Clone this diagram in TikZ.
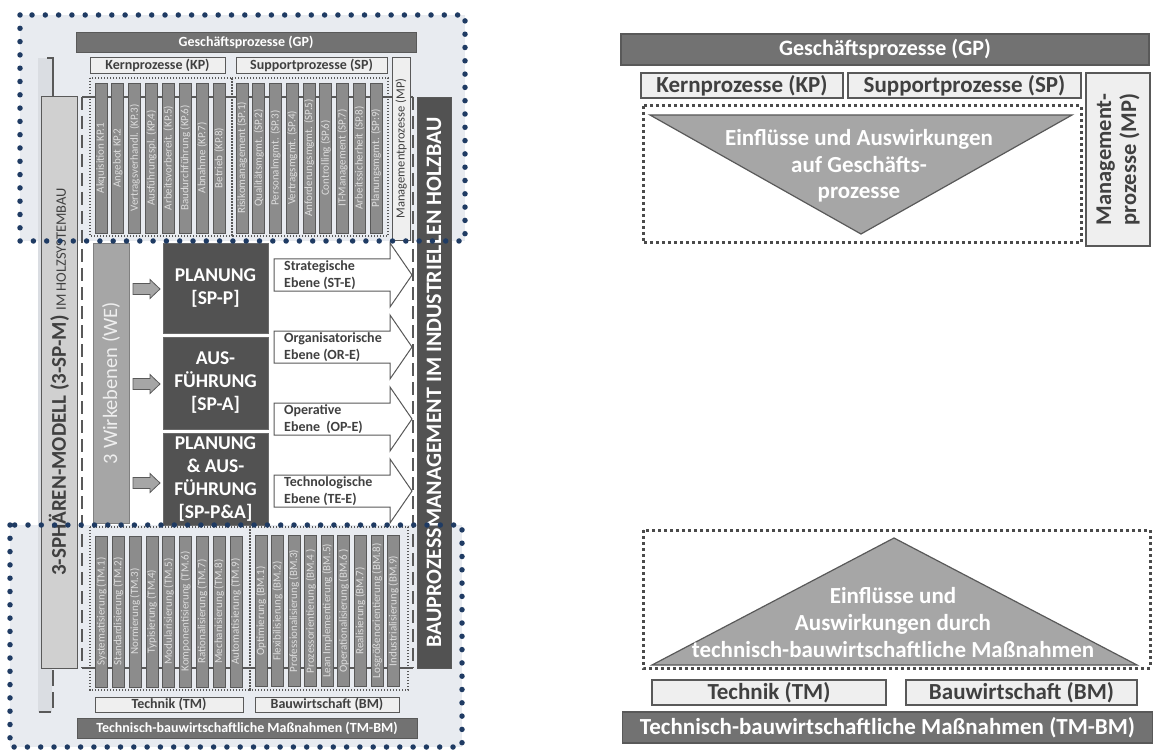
\documentclass[tikz,border=0pt]{standalone}
\usepackage{fontspec}
\setmainfont{Carlito}
\usetikzlibrary{shapes.geometric}
\definecolor{regbg}{HTML}{E8EBF0}
\definecolor{navy}{HTML}{1F3B63}
\definecolor{lineg}{HTML}{595959}
\definecolor{dotg}{HTML}{4A4A4A}
\definecolor{colfill}{HTML}{8C8C8C}
\definecolor{coltext}{HTML}{DDDDDD}
\definecolor{barfill}{HTML}{727272}
\definecolor{darkbox}{HTML}{525252}
\definecolor{darkedge}{HTML}{6A6A6A}
\definecolor{lightbox}{HTML}{EFEFEF}
\definecolor{midgray}{HTML}{A6A6A6}
\definecolor{spmfill}{HTML}{D0D0D0}
\definecolor{band}{HTML}{DADDE2}
\definecolor{txtdark}{HTML}{404040}
\definecolor{wetext}{HTML}{EEEEEE}
\definecolor{weedge}{HTML}{808080}
\begin{document}
\begin{tikzpicture}[x=1pt,y=-1pt,
  col/.style={draw=lineg, fill=colfill, line width=0.8pt, rotate=90, minimum height=12pt, inner sep=0pt, text=coltext, font=\fontsize{11}{13}\selectfont},
  lbl/.style={draw=lineg, fill=lightbox, line width=0.8pt, inner sep=0pt, text=txtdark, font=\bfseries\fontsize{14}{16}\selectfont},
  bar/.style={draw=lineg, fill=barfill, line width=0.8pt, inner sep=0pt, text=white, font=\bfseries\fontsize{14}{16}\selectfont},
  rlbl/.style={draw=lineg, fill=lightbox, line width=1.2pt, inner sep=0pt, text=txtdark, font=\bfseries\fontsize{23}{25}\selectfont},
  rbar/.style={draw=lineg, fill=barfill, line width=1.2pt, inner sep=0pt, text=white, font=\bfseries\fontsize{22}{25}\selectfont},
  dotsq/.style={draw=lineg, line width=1.4pt, dash pattern=on 1.4pt off 1.6pt},
  rdot/.style={draw=dotg, line width=3pt, dash pattern=on 3pt off 3pt},
  navydots/.style={draw=navy, line width=5.5pt, line cap=round, dash pattern=on 0pt off 13.3pt},
  dbox/.style={draw=darkedge, fill=darkbox, line width=0.8pt, text=white, align=center, inner sep=0pt, minimum width=105pt, font=\bfseries\fontsize{19.5}{23}\selectfont},
  smallarr/.style={draw=lineg, fill=midgray, line width=0.8pt},
  bigarr/.style={draw=lineg, fill=white, line width=1pt},
  arrtxt/.style={anchor=west, align=left, text=txtdark, font=\bfseries\fontsize{14}{17}\selectfont, inner sep=0pt},
  tri/.style={draw=lineg, fill=midgray, line width=1.2pt},
  tritxt/.style={align=center, text=white, font=\bfseries\fontsize{23}{27}\selectfont},
  framel/.style={draw=lineg, line width=1.6pt},
]
\useasboundingbox (0,0) rectangle (1153,751);
\fill[white] (0,0) rectangle (1153,751);
% ---------- left: region backgrounds
\fill[regbg] (20,15) rectangle (465,241);
\fill[regbg] (10,525) rectangle (462,747);
\fill[band] (38,58) rectangle (52,712);
% bracket
\draw[framel, line width=1.8pt] (47,58) -- (53,58) -- (53,96);
\draw[framel, line width=1.8pt, dash pattern=on 16pt off 6pt] (53,670) -- (53,712) -- (39,712);
% dashed frame
\draw[framel, dash pattern=on 13pt off 6pt] (82,97) -- (82,668);
\draw[framel, dash pattern=on 13pt off 6pt] (413,97) -- (413,668);
\draw[framel] (82,97) -- (413,97);
\draw[framel] (82,668) -- (413,668);
% dotted groups
\draw[dotsq] (90,78) rectangle (232,236);
\draw[dotsq] (232,78) rectangle (388,236);
\draw[dotsq] (90,527) rectangle (250,690);
\draw[dotsq] (250,527) rectangle (408,690);
% columns
\foreach \t [count=\i] in {Akquisition KP.1, Angebot KP.2, Vertragsverhandl. (KP.3), Ausführungspl. (KP.4), Arbeitsvorbereit. (KP.5), Baudurchführung (KP.6), Abnahme (KP.7), Betrieb (KP.8)}
  \node[col, minimum width=150pt] (kp\i) at ({101+(\i-1)*16.86},158) {\t};
\foreach \t [count=\i] in {Risikomanagement (SP.1), Qualitätsmgmt. (SP.2), Personalmgmt. (SP.3), Vertragsmgmt. (SP.4), Anforderungsmgmt. (SP.5), Controlling (SP.6), IT-Management (SP.7), Arbeitssicherheit (SP.8), Planungsmgmt. (SP:9)}
  \node[col, minimum width=150pt] (sp\i) at ({242+(\i-1)*16.75},158) {\t};
\foreach \t [count=\i] in {Systematisierung (TM.1), Standardisierung (TM.2), Normierung (TM.3), Typisierung (TM.4), Modularisierung (TM.5), Komponentisierung (TM.6), Rationalisierung (TM.7), Mechanisierung (TM.8), Automatisierung (TM.9)}
  \node[col, minimum width=151pt] (tm\i) at ({101.5+(\i-1)*16.8},611.5) {\t};
\foreach \t [count=\i] in {Optimierung (BM.1), Flexibilisierung (BM.2), Professionalisierung (BM.3), Prozessorientierung (BM.4 ), Lean Implementierung (BM.5), Operationalisierung (BM.6 ), Realisierung (BM.7), Losgrößenorientierung (BM.8), Industrialisierung (BM.9)}
  \node[col, minimum width=151pt] (bm\i) at ({261+(\i-1)*16.56},611) {\t};
% headers
\node[bar, minimum width=340pt, minimum height=20pt] (gp) at (246,42) {Geschäftsprozesse (GP)};
\node[lbl, minimum width=135pt, minimum height=16pt] (kp) at (157.5,65) {Kernprozesse (KP)};
\node[lbl, minimum width=151pt, minimum height=16pt] (sp) at (311.5,65) {Supportprozesse (SP)};
\node[lbl, rotate=90, minimum width=183pt, minimum height=18pt, font=\fontsize{12.5}{14}\selectfont] (mp) at (401,148.5) {Managementprozesse (MP)};
\node[lbl, minimum width=148pt, minimum height=15pt] (tm) at (169,704.5) {Technik (TM)};
\node[lbl, minimum width=144pt, minimum height=15pt] (bm) at (327,704.5) {Bauwirtschaft (BM)};
\node[bar, minimum width=340pt, minimum height=20pt] (tmbm) at (247,728) {Technisch-bauwirtschaftliche Maßnahmen (TM-BM)};
% 3-SP-M
\node[draw=lineg, fill=spmfill, line width=0.8pt, rotate=90, minimum width=572pt, minimum height=36pt, inner sep=0pt, text=txtdark, font=\bfseries\fontsize{21}{24}\selectfont] (spm) at (59,382) {3-SPHÄREN-MODELL (3-SP-M) {\mdseries\fontsize{14.5}{15}\selectfont IM HOLZSYSTEMBAU}};
% WE
\node[draw=weedge, fill=midgray, line width=0.8pt, rotate=90, minimum width=280pt, minimum height=36pt, inner sep=0pt, text=wetext, font=\fontsize{20.5}{24}\selectfont] (we) at (111,383) {3 Wirkebenen (WE)};
% small arrows
\foreach \cy in {289,384,483}
  \draw[smallarr, shift={(0,\cy)}] (133,-5.5) -- (150,-5.5) -- (150,-9.5) -- (160,0) -- (150,9.5) -- (150,5.5) -- (133,5.5) -- cycle;
% dark boxes
\node[dbox, minimum height=90pt] (spp) at (215.5,288) {PLANUNG\\{[SP-P]}};
\node[dbox, minimum height=92pt] (spa) at (215.5,383) {AUS-\\FÜHRUNG\\{[SP-A]}};
\node[dbox, minimum height=92pt] (sppa) at (215.5,479) {PLANUNG\\\& AUS-\\FÜHRUNG\\{[SP-P\&A]}};
% big arrows
\foreach \cy in {275,347,419,491}
  \draw[bigarr, shift={(0,\cy)}] (274,-16) -- (390,-16) -- (390,-32) -- (412,0) -- (390,32) -- (390,16) -- (274,16) -- cycle;
\node[arrtxt] (ste) at (284,275) {Strategische\\Ebene (ST-E)};
\node[arrtxt] (ore) at (284,347) {Organisatorische\\Ebene (OR-E)};
\node[arrtxt] (ope) at (284,419) {Operative\\Ebene\ \ (OP-E)};
\node[arrtxt] (tee) at (284,491) {Technologische\\Ebene (TE-E)};
% BAU bar
\node[draw=lineg, fill=darkbox, line width=0.8pt, rotate=90, minimum width=571pt, minimum height=34pt, inner sep=0pt, text=white, font=\bfseries\fontsize{22}{25}\selectfont] (bau) at (434,382.5) {BAUPROZESSMANAGEMENT IM INDUSTRIELLEN HOLZBAU};
% region borders
\draw[navydots] (20,15) rectangle (465,241);
\draw[navydots] (10,525) rectangle (462,747);
% ---------- right side
\node[rbar, minimum width=528pt, minimum height=31pt] (rgp) at (885,49.5) {Geschäftsprozesse (GP)};
\node[rlbl, minimum width=202pt, minimum height=25pt] (rkp) at (742,85.5) {Kernprozesse (KP)};
\node[rlbl, minimum width=233pt, minimum height=25pt] (rsp) at (964.5,85.5) {Supportprozesse (SP)};
\node[rlbl, rotate=90, minimum width=173pt, minimum height=64pt, align=left, font=\bfseries\fontsize{22.5}{25}\selectfont] (rmp) at (1118,159.5) {Management-\\prozesse (MP)};
\draw[rdot] (643,106) rectangle (1081,243);
\draw[tri] (650,115) -- (1072,115) -- (861,234) -- cycle;
\node[tritxt, font=\bfseries\fontsize{23}{26.5}\selectfont] (trtop) at (859,166) {Einflüsse und Auswirkungen\\auf Geschäfts-\\prozesse};
\draw[rdot] (643,530) rectangle (1150,668);
\draw[tri] (652,665) -- (1137,665) -- (894,538) -- cycle;
\node[tritxt] (trbot) at (893,623) {Einflüsse und\\Auswirkungen durch\\technisch-bauwirtschaftliche Maßnahmen};
\node[rlbl, minimum width=234pt, minimum height=25pt] (rtm) at (769,692.5) {Technik (TM)};
\node[rlbl, minimum width=231pt, minimum height=25pt] (rbm) at (1021.5,692.5) {Bauwirtschaft (BM)};
\node[rbar, minimum width=530pt, minimum height=31pt, font=\bfseries\fontsize{23}{25}\selectfont] (rtmbm) at (887.5,727.5) {Technisch-bauwirtschaftliche Maßnahmen (TM-BM)};
\end{tikzpicture}
\end{document}
